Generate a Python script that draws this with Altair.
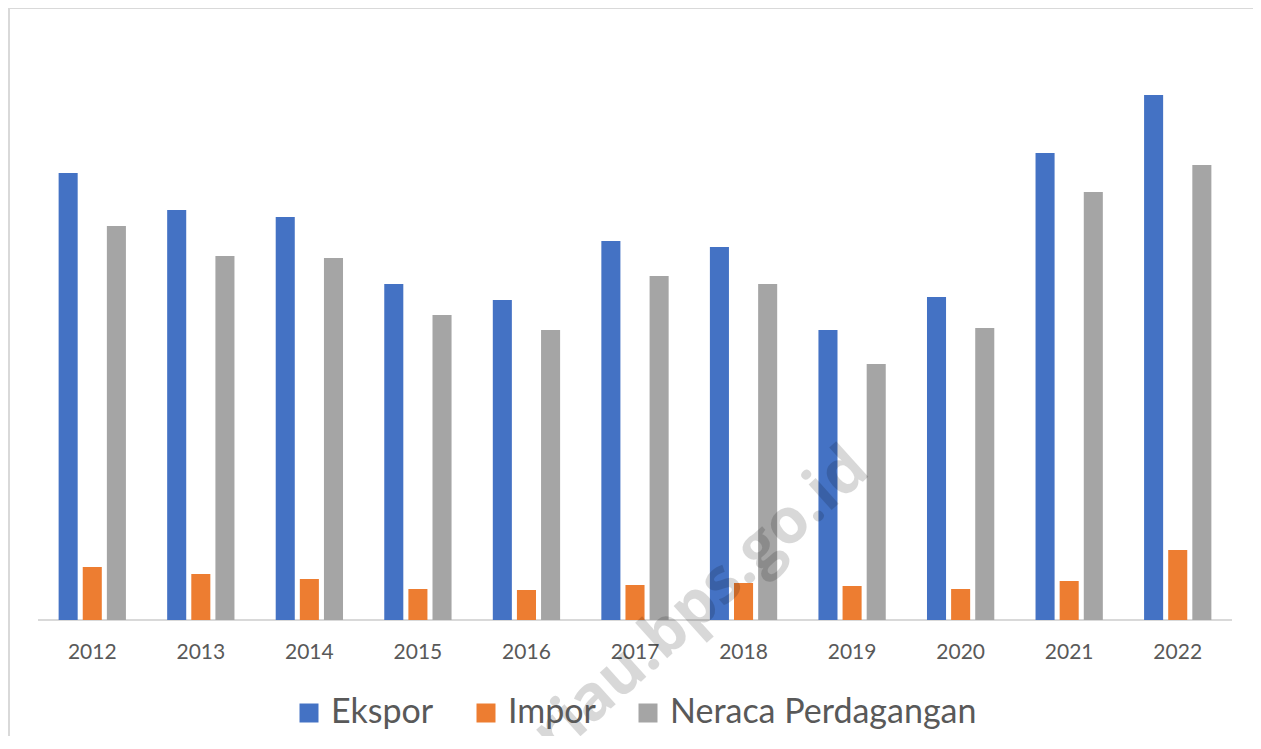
import altair as alt
import pandas as pd

tahun = ["2012", "2013", "2014", "2015", "2016", "2017", "2018", "2019", "2020", "2021", "2022"]
ekspor = [22.35, 20.50, 20.15, 16.80, 16.00, 18.95, 18.65, 14.50, 16.15, 23.35, 26.25]
impor = [2.65, 2.30, 2.05, 1.55, 1.50, 1.75, 1.85, 1.70, 1.55, 1.95, 3.50]
neraca = [19.70, 18.20, 18.10, 15.25, 14.50, 17.20, 16.80, 12.80, 14.60, 21.40, 22.75]
seri = ["Ekspor", "Impor", "Neraca Perdagangan"]
warna = ["#4472C4", "#ED7D31", "#A5A5A5"]

rows = []
for i, t in enumerate(tahun):
    for s, vals in zip(seri, [ekspor, impor, neraca]):
        rows.append({"Tahun": t, "Kategori": s, "Nilai": vals[i]})
df = pd.DataFrame(rows)
df_tahun = pd.DataFrame({"Tahun": tahun})

W, H = 1245, 728
BASE = 612

xscale = alt.Scale(domain=tahun, range=[30, 1224], paddingInner=0.38, paddingOuter=0.19)

bars = alt.Chart(df).mark_bar().encode(
    x=alt.X("Tahun:N", scale=xscale, axis=None),
    xOffset=alt.XOffset("Kategori:N", sort=seri,
                        scale=alt.Scale(domain=seri, paddingInner=0.21, paddingOuter=0)),
    y=alt.Y("Nilai:Q", scale=alt.Scale(domain=[0, BASE / 20], range=[BASE, 0]), axis=None),
    color=alt.Color("Kategori:N", sort=seri,
                    scale=alt.Scale(domain=seri, range=warna),
                    legend=alt.Legend(title=None, orient="none", legendX=284, legendY=688,
                                      direction="horizontal", symbolType="square",
                                      symbolSize=361, symbolStrokeWidth=0,
                                      labelFont="Lato", labelFontSize=34, labelLimit=800,
                                      labelColor="#595959", labelOffset=5,
                                      columnPadding=35, padding=0)),
)

baseline = alt.Chart(df_tahun).mark_rule(color="#D9D9D9", strokeWidth=1.5).encode(
    x=alt.value(30), x2=alt.value(1224), y=alt.value(BASE)
)

labels = alt.Chart(df_tahun).mark_text(
    font="Lato", fontSize=21, color="#595959", baseline="alphabetic"
).encode(
    x=alt.X("Tahun:N", scale=xscale, axis=None),
    y=alt.value(651),
    text="Tahun:N",
)

frame_top = alt.Chart(df_tahun).mark_rule(color="#D9D9D9", strokeWidth=2).encode(
    x=alt.value(0), x2=alt.value(W), y=alt.value(0)
)
frame_left = alt.Chart(df_tahun).mark_rule(color="#D9D9D9", strokeWidth=2).encode(
    x=alt.value(1), y=alt.value(0), y2=alt.value(H)
)

watermark = alt.Chart(pd.DataFrame({"t": ["riau.bps.go.id"]})).mark_text(
    angle=318, fontSize=63, fontWeight="bold", font="Open Sans",
    color="#000000", opacity=0.15, align="center", baseline="middle"
).encode(x=alt.value(693), y=alt.value(594), text="t:N")

chart = alt.layer(frame_top, frame_left, baseline, bars, labels, watermark).properties(
    width=W, height=H, autosize=alt.AutoSizeParams(type="none"), padding=0,
    background="#FFFFFF"
).configure_view(stroke="transparent", strokeWidth=0)

chart.save("out.html", embed_options={"renderer": "svg", "actions": False})
